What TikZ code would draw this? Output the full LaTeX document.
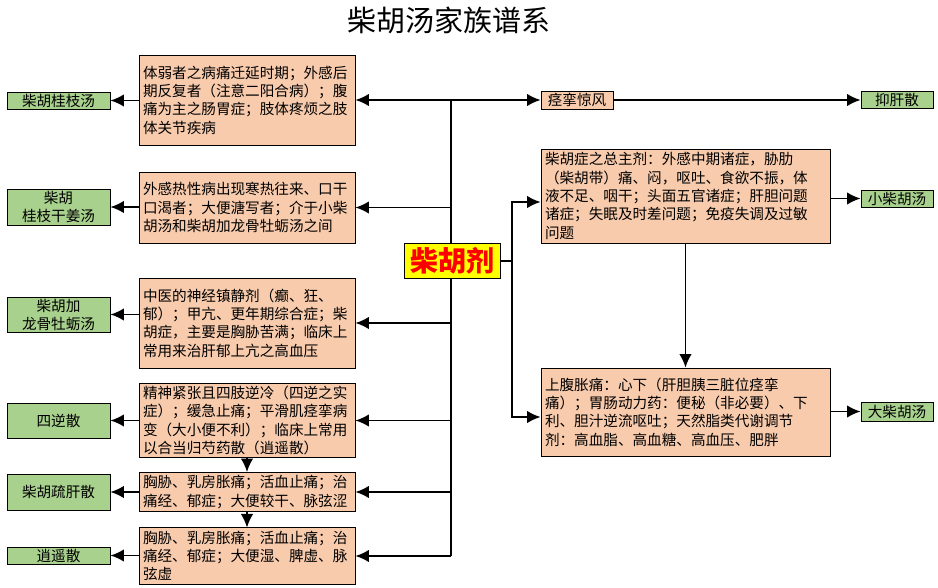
\documentclass[tikz,border=0pt]{standalone}
\usepackage{fontspec}
\setmainfont{Noto Sans CJK SC}
\usepackage{xcolor}
\usepackage{tikz}
\usetikzlibrary{arrows.meta,calc,positioning}
\definecolor{zhengfill}{HTML}{F8CBAD}
\definecolor{fangfill}{HTML}{A9D18E}
\definecolor{jifill}{HTML}{FFFF00}
\definecolor{jitext}{HTML}{FF0000}
\tikzset{
  zheng/.style={draw, line width=0.9pt, fill=zhengfill, inner sep=3pt, align=left,
    font=\fontsize{14.6}{18.3}\selectfont},
  zhengL/.style={zheng, text width=208pt, minimum width=216pt},   % left column
  zhengR/.style={zheng, text width=281pt, minimum width=289pt},   % right column
  fang/.style={draw, line width=0.9pt, fill=fangfill, inner sep=0pt, align=center,
    font=\fontsize{14.6}{18}\selectfont},
  fangL/.style={fang, minimum width=103pt},
  fangR/.style={fang, minimum width=72pt},
  ji/.style={draw, line width=0.9pt, fill=jifill, text=jitext, inner sep=0pt,
    minimum width=96pt, minimum height=35pt, font=\fontsize{28}{30}\bfseries\selectfont},
  arr/.style={-{Latex[length=13.5pt,width=12.5pt]}, line width=1.6pt},
  link/.style={line width=1.6pt}
}

\begin{document}
\begin{tikzpicture}[x=1pt,y=-1pt]
  \useasboundingbox (0,0) rectangle (938,588);
  % title
  \node[font=\fontsize{29}{30}\selectfont, anchor=base] (title) at (449,31.5) {柴胡汤家族谱系};
  % trunk behind the centre box
  \coordinate (trunkTop) at (451,100);
  \coordinate (trunkBot) at (451,556);
  \draw[link] (trunkTop) -- (trunkBot);
  \node[ji] (J) at (452,261) {柴胡剂};
  % left column
  \node[zhengL, minimum height=90pt] (L1) at (247,100) {体弱者之病痛迁延时期；外感后\\期反复者（注意二阳合病）；腹\\痛为主之肠胃症；肢体疼烦之肢\\体关节疾病};
  \node[zhengL, minimum height=71pt] (L2) at (247,207.5) {外感热性病出现寒热往来、口干\\口渴者；大便溏写者；介于小柴\\胡汤和柴胡加龙骨牡蛎汤之间};
  \node[zhengL, minimum height=90pt] (L3) at (247,323) {中医的神经镇静剂（癫、狂、\\郁）；甲亢、更年期综合症；柴\\胡症，主要是胸胁苦满；临床上\\常用来治肝郁上亢之高血压};
  \node[zhengL, minimum height=73pt] (L4) at (247,420.5) {精神紧张且四肢逆冷（四逆之实\\症）；缓急止痛；平滑肌痉挛病\\变（大小便不利）；临床上常用\\以合当归芍药散（逍遥散）};
  \node[zhengL, minimum height=36pt] (L5) at (247,492) {胸胁、乳房胀痛；活血止痛；治\\痛经、郁症；大便较干、脉弦涩};
  \node[zhengL, minimum height=54pt] (L6) at (247,556) {胸胁、乳房胀痛；活血止痛；治\\痛经、郁症；大便湿、脾虚、脉\\弦虚};
  \node[fangL, minimum height=17pt] (F1) at (58.5,100.5) {柴胡桂枝汤};
  \node[fangL, minimum height=36pt] (F2) at (58.5,207) {柴胡\\桂枝干姜汤};
  \node[fangL, minimum height=35pt] (F3) at (58.5,314.5) {柴胡加\\龙骨牡蛎汤};
  \node[fangL, minimum height=35pt] (F4) at (58.5,420.5) {四逆散};
  \node[fangL, minimum height=36pt] (F5) at (58.5,492) {柴胡疏肝散};
  \node[fangL, minimum height=17pt] (F6) at (58.5,555.5) {逍遥散};
  % right column
  \node[zheng, align=center, inner sep=0pt, minimum width=72pt, minimum height=18pt] (S) at (577,100) {痉挛惊风};
  \node[zhengR, minimum height=94pt] (R1) at (685.5,196) {柴胡症之总主剂：外感中期诸症，胁肋\\（柴胡带）痛、闷，呕吐、食欲不振，体\\液不足、咽干；头面五官诸症；肝胆问题\\诸症；失眠及时差问题；免疫失调及过敏\\问题};
  \node[zhengR, minimum height=88pt] (R2) at (685.5,412) {上腹胀痛：心下（肝胆胰三脏位痉挛\\痛）；胃肠动力药：便秘（非必要）、下\\利、胆汁逆流呕吐；天然脂类代谢调节\\剂：高血脂、高血糖、高血压、肥胖};
  \node[fangR, minimum height=17pt] (F7) at (897,100) {抑肝散};
  \node[fangR, minimum height=17pt] (F8) at (897,198.5) {小柴胡汤};
  \node[fangR, minimum height=19pt] (F9) at (897,411.5) {大柴胡汤};
  % connectors on the left
  \draw[arr] (trunkTop) -- (L1.east);
  \draw[arr] (trunkTop) -- (S.west);
  \foreach \n in {2,...,6}{
    \draw[arr] (L\n.east -| trunkTop) -- (L\n.east);
  }
  \foreach \n in {1,...,6}{
    \draw[arr] (L\n.west |- F\n.east) -- (F\n.east);
  }
  \draw[arr] (L4.south) -- (L5.north);
  \draw[arr] (L5.south) -- (L6.north);
  % connectors on the right
  \coordinate (br) at (512,261);
  \draw[link] (J.east) -- (br);
  \draw[arr] (br) |- ([yshift=-6pt]R1.west);
  \draw[arr] (br) |- ([yshift=-5pt]R2.west);
  \draw[arr] (R1.south) -- (R2.north);
  \draw[arr] (S.east) -- (F7.west);
  \draw[arr] (R1.east |- F8.west) -- (F8.west);
  \draw[arr] (R2.east |- F9.west) -- (F9.west);
\end{tikzpicture}
\end{document}
